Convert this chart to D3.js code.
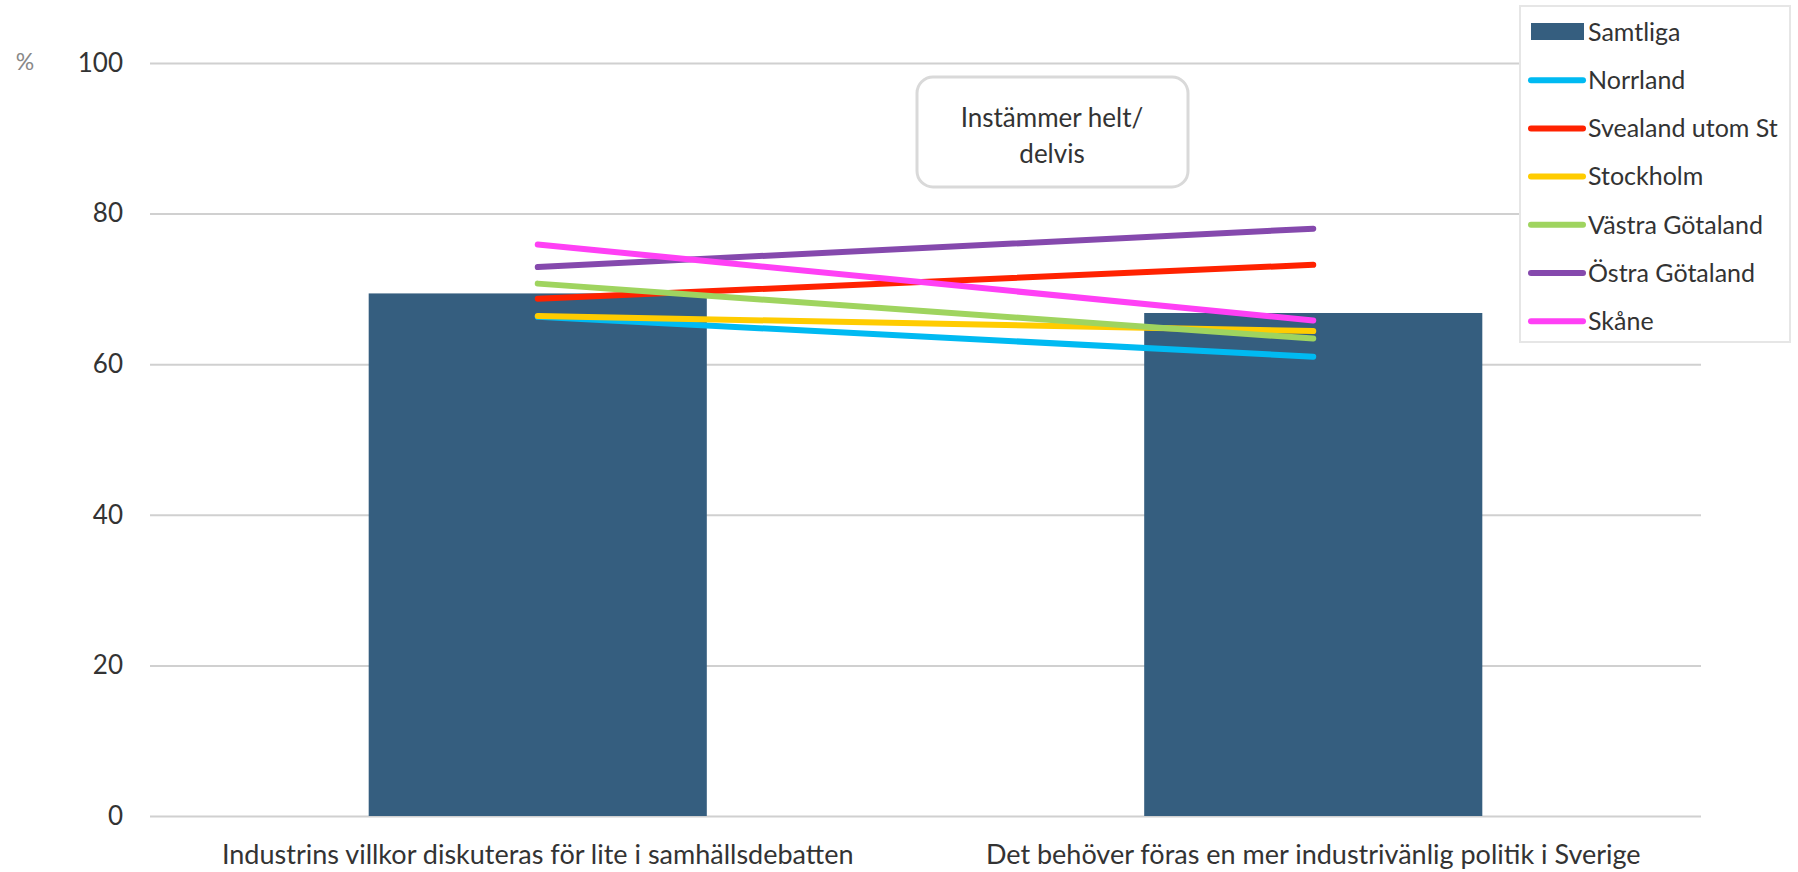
<!DOCTYPE html>
<html>
<head>
<meta charset="utf-8">
<script src="https://cdn.jsdelivr.net/npm/d3@7"></script>
<style>
	body { margin: 0; background: #fff; }
	text { font-family: "Lato", "DejaVu Sans", sans-serif; fill: #333; }
</style>
</head>
<body>
<div id="chart"></div>
<script>
var categories = ['Industrins villkor diskuteras för lite i samhällsdebatten', 'Det behöver föras en mer industrivänlig politik i Sverige'];
var samtliga = [69.4, 66.8];
var seriesNames = ['Norrland', 'Svealand utom St', 'Stockholm', 'Västra Götaland', 'Östra Götaland', 'Skåne'];
var norrland = [66.3, 61.0];
var svealand = [68.7, 73.2];
var stockholm = [66.4, 64.4];
var vastraGotaland = [70.7, 63.4];
var ostraGotaland = [72.9, 78.0];
var skane = [75.9, 65.8];
var yTicks = [0, 20, 40, 60, 80, 100];
var colors = ['#00baf2', '#ff2200', '#ffcc00', '#9fd45f', '#8549ad', '#ff40f5'];
var barColor = '#355e7f';

var lineData = [norrland, svealand, stockholm, vastraGotaland, ostraGotaland, skane];

var svgWidth = 1798,
	svgHeight = 872,
	plotLeft = 150,
	plotRight = 1701,
	plotTop = 63,
	plotBottom = 816;

var svg = d3.select('#chart')
	.append('svg')
	.attr('width', svgWidth)
	.attr('height', svgHeight);

var x = d3.scaleBand()
	.domain(categories)
	.range([plotLeft, plotRight])
	.paddingInner(0.564)
	.paddingOuter(0.282);

var y = d3.scaleLinear()
	.domain([0, 100])
	.range([plotBottom, plotTop]);

// gridlines + tick labels
var yAxis = svg.append('g')
	.attr('transform', 'translate(' + plotLeft + ',0)')
	.call(d3.axisLeft(y).tickValues(yTicks).tickSize(-(plotRight - plotLeft)).tickPadding(27));

yAxis.select('.domain').remove();
yAxis.selectAll('.tick line')
	.attr('stroke', '#d0d0d0')
	.attr('stroke-width', 2);
yAxis.selectAll('.tick text')
	.attr('font-size', '26px')
	.attr('fill', '#333')
	.style('font-family', 'Lato, sans-serif');

svg.append('text')
	.text('%')
	.attr('x', 25)
	.attr('y', y(100))
	.attr('dy', '0.32em')
	.attr('text-anchor', 'middle')
	.attr('font-size', '23px')
	.style('fill', '#888');

// bars
svg.append('g')
	.selectAll('rect')
	.data(samtliga)
	.enter()
	.append('rect')
	.attr('x', function(d, i) { return x(categories[i]); })
	.attr('y', function(d) { return y(d); })
	.attr('width', x.bandwidth())
	.attr('height', function(d) { return y(0) - y(d); })
	.attr('fill', barColor);

// category labels
svg.append('g')
	.selectAll('text')
	.data(categories)
	.enter()
	.append('text')
	.text(function(d) { return d; })
	.attr('x', function(d) { return x(d) + x.bandwidth() / 2; })
	.attr('y', 855)
	.attr('dy', '0.35em')
	.attr('text-anchor', 'middle')
	.attr('font-size', '27px');

// lines
var line = d3.line()
	.x(function(d, i) { return x(categories[i]) + x.bandwidth() / 2; })
	.y(function(d) { return y(d); });

svg.append('g')
	.selectAll('path')
	.data(lineData)
	.enter()
	.append('path')
	.attr('d', line)
	.attr('fill', 'none')
	.attr('stroke', function(d, i) { return colors[i]; })
	.attr('stroke-width', 6)
	.attr('stroke-linecap', 'round');

// annotation box
var note = svg.append('g');
note.append('rect')
	.attr('x', 917)
	.attr('y', 77)
	.attr('width', 271)
	.attr('height', 110)
	.attr('rx', 16)
	.attr('fill', '#fff')
	.attr('stroke', '#d9d9d9')
	.attr('stroke-width', 3);
note.append('text')
	.attr('text-anchor', 'middle')
	.attr('font-size', '26px')
	.selectAll('tspan')
	.data(['Instämmer helt/', 'delvis'])
	.enter()
	.append('tspan')
	.attr('x', 1052)
	.attr('y', function(d, i) { return 118 + i * 36; })
	.attr('dy', '0.35em')
	.text(function(d) { return d; });

// legend
var legend = svg.append('g');
legend.append('rect')
	.attr('x', 1520)
	.attr('y', 6)
	.attr('width', 270)
	.attr('height', 336)
	.attr('fill', '#fff')
	.attr('stroke', '#e6e6e6')
	.attr('stroke-width', 2);

var legendNames = ['Samtliga'].concat(seriesNames);
var items = legend.selectAll('g.item')
	.data(legendNames)
	.enter()
	.append('g')
	.attr('class', 'item')
	.attr('transform', function(d, i) { return 'translate(0,' + (32 + i * 48.2) + ')'; });

items.each(function(d, i) {
	var g = d3.select(this);
	if (i == 0) {
		g.append('rect')
			.attr('x', 1531)
			.attr('y', -9)
			.attr('width', 53)
			.attr('height', 17)
			.attr('fill', barColor);
	} else {
		g.append('line')
			.attr('x1', 1531)
			.attr('x2', 1583)
			.attr('y1', 0)
			.attr('y2', 0)
			.attr('stroke', colors[i - 1])
			.attr('stroke-width', 6)
			.attr('stroke-linecap', 'round');
	}
	g.append('text')
		.text(d)
		.attr('x', 1588)
		.attr('y', 0)
		.attr('dy', '0.35em')
		.attr('font-size', '25px');
});
</script>
</body>
</html>
